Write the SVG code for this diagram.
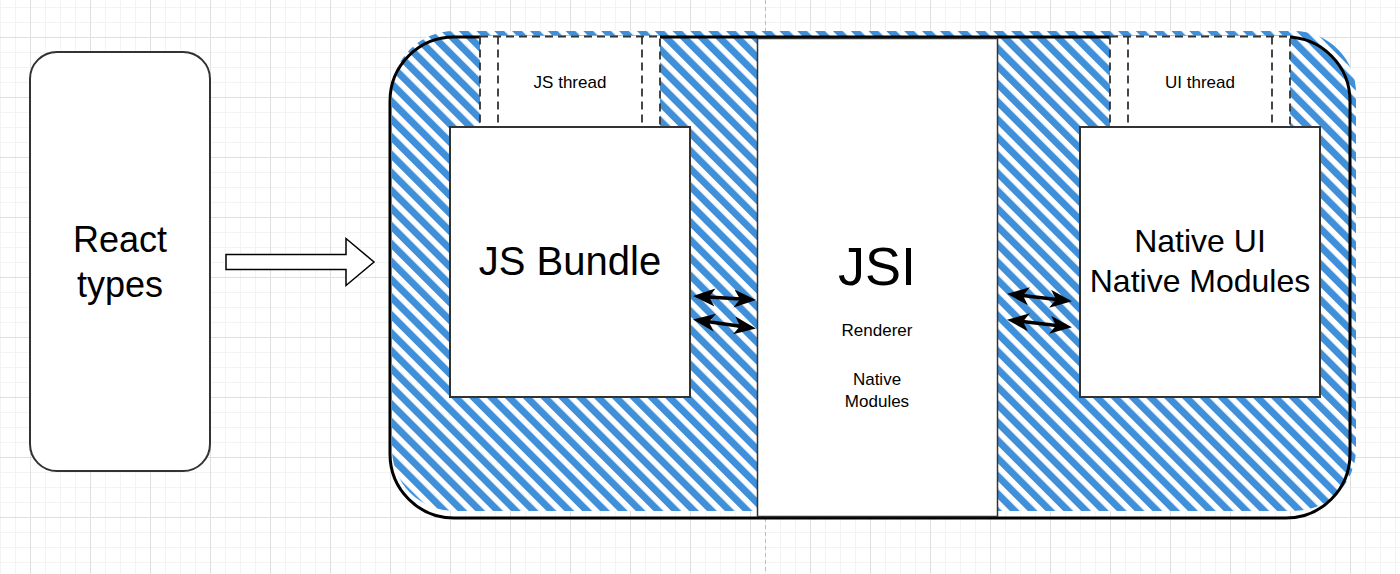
<svg xmlns="http://www.w3.org/2000/svg" width="1400" height="574" viewBox="0 0 1400 574">
<defs>
<style>
text{font-family:"Liberation Sans",Arial,Helvetica,sans-serif;fill:#000;text-anchor:middle}
.box{fill:#fff;stroke:#333;stroke-width:2}
.dash{fill:none;stroke:#333;stroke-width:1.8;stroke-dasharray:8 5}
.conn{fill:none;stroke:#000;stroke-width:3.5;marker-start:url(#ah);marker-end:url(#ah)}
</style>
<pattern id="minor" patternUnits="userSpaceOnUse" x="0" y="7" width="15" height="15">
<rect x="0" y="0" width="1" height="15" fill="#f3f3f3"/>
<rect x="0" y="0" width="15" height="1" fill="#f3f3f3"/>
</pattern>
<pattern id="major" patternUnits="userSpaceOnUse" x="30" y="37" width="60" height="60">
<rect x="0" y="0" width="1" height="60" fill="#e0e0e0"/>
<rect x="0" y="0" width="60" height="1" fill="#e0e0e0"/>
</pattern>
<pattern id="hatch" patternUnits="userSpaceOnUse" width="12.6" height="20" patternTransform="rotate(-45)">
<rect width="12.6" height="20" fill="#fff"/>
<rect x="0" y="0" width="7" height="20" fill="#3f8fd9"/>
</pattern>
<marker id="ah" viewBox="0 0 22 18" refX="15" refY="9" markerWidth="22" markerHeight="18" markerUnits="userSpaceOnUse" orient="auto-start-reverse">
<path d="M0,0 L22,9 L0,18 L6,9 Z" fill="#000"/>
</marker>
</defs>

<g id="background">
<rect width="1400" height="574" fill="#fff"/>
<rect width="1400" height="574" fill="url(#minor)"/>
<rect width="1400" height="574" fill="url(#major)"/>
<line x1="765.5" y1="0" x2="765.5" y2="574" stroke="#bdbdbd" stroke-width="1" stroke-dasharray="4 3"/>
</g>

<g id="react-types">
<rect class="box" x="30" y="52" width="180" height="419" rx="27" ry="27" stroke-width="1.6"/>
<text x="120" y="252" font-size="36">React</text>
<text x="120" y="297" font-size="36">types</text>
</g>

<g id="runtime-container">
<rect x="392" y="31" width="964" height="480" rx="62" ry="62" fill="url(#hatch)"/>
<rect x="390" y="37" width="960" height="481" rx="64" ry="64" fill="none" stroke="#000" stroke-width="3"/>
</g>

<g id="jsi">
<rect x="757.5" y="38.5" width="240" height="478" fill="#fff" stroke="#333" stroke-width="1.5"/>
<text x="877" y="285" font-size="54">JSI</text>
<text x="877" y="336" font-size="17">Renderer</text>
<text x="877" y="385" font-size="17">Native</text>
<text x="877" y="406.5" font-size="17">Modules</text>
</g>

<g id="js-thread">
<rect x="480" y="35.5" width="180" height="91.5" fill="#fff" stroke="none"/>
<rect class="dash" x="480" y="36.5" width="180" height="90.5"/>
<line class="dash" x1="498" y1="36.5" x2="498" y2="127"/>
<line class="dash" x1="642" y1="36.5" x2="642" y2="127"/>
<text x="570" y="88" font-size="17">JS thread</text>
</g>

<g id="ui-thread">
<rect x="1110" y="35.5" width="180" height="91.5" fill="#fff" stroke="none"/>
<rect class="dash" x="1110" y="36.5" width="180" height="90.5"/>
<line class="dash" x1="1128" y1="36.5" x2="1128" y2="127"/>
<line class="dash" x1="1272" y1="36.5" x2="1272" y2="127"/>
<text x="1200" y="88" font-size="17">UI thread</text>
</g>

<g id="js-bundle">
<rect class="box" x="450" y="127" width="240" height="270"/>
<text x="570" y="275" font-size="40">JS Bundle</text>
</g>

<g id="native">
<rect class="box" x="1080" y="127" width="240" height="270"/>
<text x="1200" y="252" font-size="32">Native UI</text>
<text x="1200" y="292" font-size="32">Native Modules</text>
</g>

<g id="connectors">
<polygon points="226,254.5 346,254.5 346,238.5 374,262 346,285.5 346,269.5 226,269.5" fill="#fff" stroke="#000" stroke-width="1.5" stroke-linejoin="miter"/>
<path class="conn" d="M700,296.5 L749,299.5"/>
<path class="conn" d="M700,320.5 L749,327.5"/>
<path class="conn" d="M1014,294.5 L1065,300.5"/>
<path class="conn" d="M1014,320.5 L1065,326.5"/>
</g>
</svg>
